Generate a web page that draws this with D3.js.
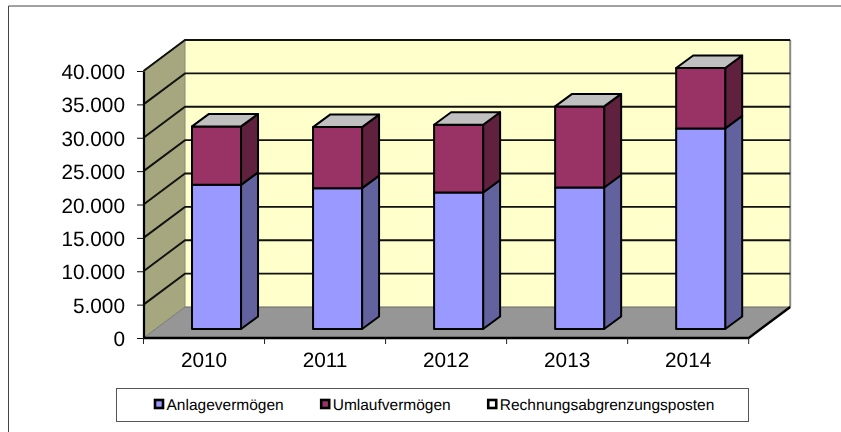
<!DOCTYPE html>
<html>
<head>
<meta charset="utf-8">
<script src="https://cdn.jsdelivr.net/npm/d3@7"></script>
<style>
  html, body { margin: 0; padding: 0; background: #fff; }
  svg { display: block; filter: blur(0.35px); }
  text { font-family: "Liberation Sans", Arial, sans-serif; fill: #000; text-rendering: geometricPrecision; }
</style>
</head>
<body>
<div class="body"></div>
<script>
const years = ["2010", "2011", "2012", "2013", "2014"];
const anlagevermoegen = [21600, 21100, 20450, 21200, 30050];
const umlaufvermoegen = [8750, 9150, 10150, 12150, 9050];
const rechnungsabgrenzung = [0, 0, 0, 0, 0];
const yTicks = [0, 5000, 10000, 15000, 20000, 25000, 30000, 35000, 40000];

const seriesNames = ["Anlagevermögen", "Umlaufvermögen", "Rechnungsabgrenzungsposten"];
const seriesFront = ["#9999ff", "#993366", "#ffffff"];
const seriesSide = ["#62629f", "#60213f", "#a0a0a0"];

const svg = d3.select(".body").append("svg").attr("width", 841).attr("height", 432);

const x = d3.scaleBand().domain(years).range([143.5, 748.7]);
const y = d3.scaleLinear().domain([0, 40000]).range([338, 71]);

// 3d offsets: wall depth, bar position inside the floor, bar depth
const depthX = 41.5, depthY = -31;
const barShiftX = 12.5, barShiftY = -9;
const barDepthX = 17, barDepthY = -12.5;
const barWidth = x.bandwidth() * 0.405;

const line = d3.line();
const poly = (pts) => line(pts) + "Z";

// outer frame, open at the right and bottom like the picture
svg.append("path")
  .attr("d", "M841,6H8.5V432")
  .attr("fill", "none")
  .attr("stroke", "#444")
  .attr("stroke-width", 1);

const x0 = x.range()[0], x1 = x.range()[1];

// back wall
svg.append("path")
  .attr("d", poly([[x0 + depthX, y(40000) + depthY], [x1 + depthX, y(40000) + depthY], [x1 + depthX, y(0) + depthY], [x0 + depthX, y(0) + depthY]]))
  .attr("fill", "#ffffcc");

// side wall
svg.append("path")
  .attr("d", poly([[x0, y(40000)], [x0 + depthX, y(40000) + depthY], [x0 + depthX, y(0) + depthY], [x0, y(0)]]))
  .attr("fill", "#a6a67f");

// floor
svg.append("path")
  .attr("d", poly([[x0, y(0)], [x0 + depthX, y(0) + depthY], [x1 + depthX, y(0) + depthY], [x1, y(0)]]))
  .attr("fill", "#969696");

// wall edges
svg.append("path")
  .attr("d", line([[x1 + depthX, y(40000) + depthY], [x1 + depthX, y(0) + depthY]]))
  .attr("stroke", "#8a8a8a").attr("stroke-width", 2).attr("fill", "none");
svg.append("path")
  .attr("d", line([[x0 + depthX, y(40000) + depthY], [x0 + depthX, y(0) + depthY]]))
  .attr("stroke", "#8a8a7a").attr("stroke-width", 1).attr("fill", "none");
svg.append("path")
  .attr("d", line([[x0, y(40000)], [x0 + depthX, y(40000) + depthY]]))
  .attr("stroke", "#666").attr("stroke-width", 1.2).attr("fill", "none");
svg.append("path")
  .attr("d", line([[x0, y(0)], [x0 + depthX, y(0) + depthY]]))
  .attr("stroke", "#777").attr("stroke-width", 1).attr("fill", "none");
svg.append("path")
  .attr("d", line([[x0 + depthX, y(0) + depthY], [x1 + depthX, y(0) + depthY]]))
  .attr("stroke", "#666").attr("stroke-width", 1).attr("fill", "none");

// gridlines, running over the side wall and along the back wall
svg.append("g").selectAll("path")
  .data(yTicks.filter((d) => d > 0))
  .join("path")
  .attr("d", (d) => line([[x0, y(d)], [x0 + depthX, y(d) + depthY], [x1 + depthX, y(d) + depthY]]))
  .attr("fill", "none")
  .attr("stroke", "#111")
  .attr("stroke-width", 1.9);

// floor front edge and right edge
svg.append("path")
  .attr("d", line([[x0, y(0)], [x1, y(0)], [x1 + depthX, y(0) + depthY]]))
  .attr("fill", "none")
  .attr("stroke", "#000")
  .attr("stroke-width", 2.4);

// stacked bars
const rows = years.map((year, i) => ({
  year,
  s0: anlagevermoegen[i],
  s1: umlaufvermoegen[i],
  s2: rechnungsabgrenzung[i],
}));
const stacked = d3.stack().keys(["s0", "s1", "s2"])(rows);

const barGroup = svg.append("g")
  .attr("stroke", "#000")
  .attr("stroke-width", 2)
  .attr("stroke-linejoin", "round");

years.forEach((year, i) => {
  const left = x(year) + (x.bandwidth() - barWidth) / 2 + barShiftX;
  const right = left + barWidth;
  stacked.forEach((layer, k) => {
    const v0 = layer[i][0], v1 = layer[i][1];
    if (v1 <= v0) return;
    const yb = y(v0) + barShiftY, yt = y(v1) + barShiftY;
    barGroup.append("path")
      .attr("d", poly([[right, yb], [right + barDepthX, yb + barDepthY], [right + barDepthX, yt + barDepthY], [right, yt]]))
      .attr("fill", seriesSide[k]);
    barGroup.append("path")
      .attr("d", poly([[left, yb], [right, yb], [right, yt], [left, yt]]))
      .attr("fill", seriesFront[k]);
  });
  const total = stacked[2][i][1];
  const yTop = y(total) + barShiftY;
  barGroup.append("path")
    .attr("d", poly([[left, yTop], [right, yTop], [right + barDepthX, yTop + barDepthY], [left + barDepthX, yTop + barDepthY]]))
    .attr("fill", "#c0c0c0");
});

// y axis
const german = d3.formatLocale({ decimal: ",", thousands: ".", grouping: [3], currency: ["", " €"] });
const yAxis = svg.append("g")
  .attr("transform", `translate(${x0},0)`)
  .call(d3.axisLeft(y).tickValues(yTicks).tickFormat(german.format(",d")).tickSize(6.5).tickPadding(12).tickSizeOuter(0));
yAxis.selectAll("text").style("font-size", "20.8px").attr("dy", "0.36em");
yAxis.selectAll("line").attr("stroke", "#111").attr("stroke-width", 1);
yAxis.select(".domain").attr("stroke", "#000").attr("stroke-width", 2.2);

// x axis: labels in the band centre, ticks on the band edges
const xAxis = svg.append("g")
  .attr("transform", `translate(0,${y(0)})`)
  .call(d3.axisBottom(x).tickSize(0).tickPadding(14));
xAxis.select(".domain").remove();
xAxis.selectAll("text").style("font-size", "20.8px");
xAxis.selectAll("line.edge")
  .data(years.concat("end"))
  .join("line")
  .attr("class", "edge")
  .attr("x1", (d) => (d === "end" ? x1 : x(d)))
  .attr("x2", (d) => (d === "end" ? x1 : x(d)))
  .attr("y1", 0)
  .attr("y2", 6)
  .attr("stroke", "#222")
  .attr("stroke-width", 1);

// legend
svg.append("rect")
  .attr("x", 116.5).attr("y", 388.5)
  .attr("width", 632).attr("height", 33)
  .attr("fill", "#fff")
  .attr("stroke", "#555")
  .attr("stroke-width", 1);

let legendX = 155;
seriesNames.forEach((name, k) => {
  svg.append("rect")
    .attr("x", legendX).attr("y", 400)
    .attr("width", 8).attr("height", 8)
    .attr("fill", seriesFront[k])
    .attr("stroke", "#000")
    .attr("stroke-width", 2.6);
  const label = svg.append("text")
    .attr("x", legendX + 11.5).attr("y", 410)
    .style("font-size", "15.5px")
    .text(name);
  legendX += 11.5 + label.node().getComputedTextLength() + 37.5;
});
</script>
</body>
</html>
